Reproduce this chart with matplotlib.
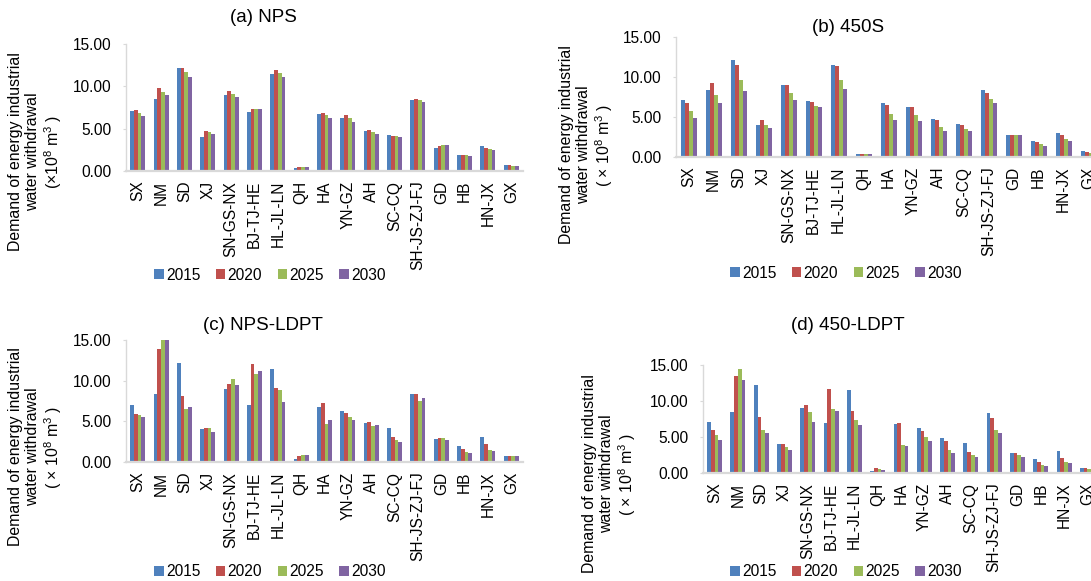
import matplotlib
matplotlib.use("Agg")
import matplotlib.pyplot as plt
import numpy as np

plt.rcParams['font.family'] = ['Liberation Sans', 'DejaVu Sans']
plt.rcParams['mathtext.fontset'] = 'custom'
plt.rcParams['mathtext.rm'] = 'Liberation Sans'
plt.rcParams['mathtext.it'] = 'Liberation Sans'

categories = ["SX", "NM", "SD", "XJ", "SN-GS-NX", "BJ-TJ-HE", "HL-JL-LN", "QH", "HA",
              "YN-GZ", "AH", "SC-CQ", "SH-JS-ZJ-FJ", "GD", "HB", "HN-JX", "GX"]
years = ["2015", "2020", "2025", "2030"]
colors = ["#4F81BD", "#C0504D", "#9BBB59", "#8064A2"]
yticks = [0, 5, 10, 15]

# (a) NPS
nps_2015 = [7.09, 8.46, 12.13, 4.02, 8.98, 7.00, 11.50, 0.39, 6.77, 6.26, 4.76, 4.21, 8.39, 2.76, 1.93, 2.95, 0.75]
nps_2020 = [7.20, 9.76, 12.13, 4.72, 9.45, 7.28, 11.97, 0.43, 6.85, 6.57, 4.84, 4.17, 8.46, 2.93, 1.93, 2.68, 0.67]
nps_2025 = [6.85, 9.37, 11.65, 4.60, 9.13, 7.36, 11.57, 0.43, 6.57, 6.22, 4.60, 4.09, 8.35, 3.03, 1.85, 2.56, 0.63]
nps_2030 = [6.50, 8.94, 11.14, 4.41, 8.78, 7.36, 11.10, 0.43, 6.30, 5.83, 4.37, 4.02, 8.19, 3.11, 1.73, 2.44, 0.63]

# (b) 450S
s450_2015 = [7.08, 8.42, 12.13, 4.04, 9.00, 7.00, 11.46, 0.42, 6.79, 6.25, 4.79, 4.17, 8.38, 2.79, 1.96, 3.00, 0.80]
s450_2020 = [6.79, 9.29, 11.54, 4.58, 9.04, 6.88, 11.42, 0.42, 6.46, 6.29, 4.58, 4.00, 8.04, 2.79, 1.85, 2.72, 0.68]
s450_2025 = [5.71, 7.79, 9.58, 4.04, 8.00, 6.42, 9.67, 0.42, 5.33, 5.29, 3.75, 3.54, 7.21, 2.71, 1.58, 2.30, 0.55]
s450_2030 = [4.92, 6.71, 8.29, 3.58, 7.13, 6.21, 8.54, 0.38, 4.58, 4.46, 3.21, 3.21, 6.71, 2.71, 1.40, 1.95, 0.48]

# (c) NPS-LDPT
npsl_2015 = [7.03, 8.42, 12.18, 4.00, 8.99, 7.03, 11.44, 0.41, 6.78, 6.25, 4.78, 4.21, 8.38, 2.80, 1.96, 3.06, 0.78]
npsl_2020 = [5.93, 13.85, 8.13, 4.17, 9.64, 12.01, 9.07, 0.74, 7.23, 6.01, 4.90, 3.06, 8.30, 2.96, 1.55, 2.25, 0.78]
npsl_2025 = [5.76, 15.00, 6.54, 4.13, 10.18, 10.79, 8.87, 0.86, 4.70, 5.56, 4.37, 2.74, 7.56, 2.90, 1.27, 1.47, 0.78]
npsl_2030 = [5.52, 15.00, 6.78, 3.72, 9.52, 11.16, 7.36, 0.86, 5.19, 5.19, 4.58, 2.49, 7.93, 2.74, 1.06, 1.35, 0.78]

# (d) 450-LDPT
l450_2015 = [7.08, 8.43, 12.16, 4.00, 9.04, 6.99, 11.46, 0.33, 6.80, 6.24, 4.80, 4.19, 8.34, 2.75, 1.95, 2.99, 0.75]
l450_2020 = [5.92, 13.41, 7.82, 4.05, 9.45, 11.60, 8.57, 0.70, 6.89, 5.87, 4.42, 2.93, 7.69, 2.79, 1.47, 2.15, 0.65]
l450_2025 = [5.31, 14.44, 5.92, 3.68, 8.52, 8.85, 7.31, 0.61, 3.91, 4.98, 3.26, 2.47, 6.01, 2.47, 1.14, 1.56, 0.56]
l450_2030 = [4.52, 12.90, 5.50, 3.26, 7.08, 8.57, 6.61, 0.47, 3.77, 4.38, 2.75, 2.28, 5.50, 2.28, 1.00, 1.40, 0.50]

W, H = 1091, 581
fig = plt.figure(figsize=(W / 100, H / 100), dpi=100)
fig.patch.set_facecolor("white")

def px_axes(x0, x1, y0, y15):
    return fig.add_axes([x0 / W, 1 - y0 / H, (x1 - x0) / W, (y0 - y15) / H])

panels = [
    dict(title="(a) NPS", series=[nps_2015, nps_2020, nps_2025, nps_2030],
         box=(126, 523, 171, 44), title_xy=(263, 18), ylab_xy=(36, 152),
         unit="(×10$^8$ m$^3$ )", leg_xy=(270, 275)),
    dict(title="(b) 450S", series=[s450_2015, s450_2020, s450_2025, s450_2030],
         box=(676, 1101, 157, 37), title_xy=(848, 27), ylab_xy=(587, 145),
         unit="( × 10$^8$ m$^3$ )", leg_xy=(846, 273)),
    dict(title="(c) NPS-LDPT", series=[npsl_2015, npsl_2020, npsl_2025, npsl_2030],
         box=(126, 523, 462, 340), title_xy=(263, 325), ylab_xy=(36, 447),
         unit="( × 10$^8$ m$^3$ )", leg_xy=(270, 572)),
    dict(title="(d) 450-LDPT", series=[l450_2015, l450_2020, l450_2025, l450_2030],
         box=(703, 1099, 473, 365), title_xy=(848, 326), ylab_xy=(610, 474),
         unit="( × 10$^8$ m$^3$ )", leg_xy=(846, 572)),
]

x = np.arange(len(categories))
bw = 0.16
grey = "#D9D9D9"

for p in panels:
    ax = px_axes(*p["box"])
    handles = []
    for i, (vals, c) in enumerate(zip(p["series"], colors)):
        h = ax.bar(x + (i - 1.5) * bw, vals, width=bw, color=c, linewidth=0, label=years[i])
        handles.append(h)
    ax.set_xlim(-0.5, len(categories) - 0.5)
    ax.set_ylim(0, 15)
    ax.set_yticks(yticks)
    ax.set_yticklabels([f"{v:.2f}" for v in yticks], fontsize=11.2)
    ax.set_xticks(x)
    ax.set_xticklabels(categories, rotation=90, fontsize=11.2)
    for s in ["top", "right"]:
        ax.spines[s].set_visible(False)
    ax.spines["left"].set_color(grey)
    ax.spines["left"].set_linewidth(1.0)
    ax.spines["bottom"].set_color(grey)
    ax.spines["bottom"].set_linewidth(1.6)
    ax.tick_params(axis="x", length=0, pad=7)
    ax.tick_params(axis="y", length=2.5, color=grey, pad=8)
    ax.set_facecolor("none")

    tx, ty = p["title_xy"]
    fig.text(tx / W, 1 - ty / H, p["title"], ha="center", va="center", fontsize=13.5)
    lx, ly = p["ylab_xy"]
    fig.text(lx / W, 1 - ly / H,
             "Demand of energy industrial\nwater withdrawal\n" + p["unit"],
             rotation=90, ha="center", va="center", multialignment="center",
             fontsize=11.4, linespacing=1.15)
    gx, gy = p["leg_xy"]
    fig.legend(handles=handles, labels=years, loc="center",
               bbox_to_anchor=(gx / W, 1 - gy / H), ncol=4, frameon=False,
               fontsize=11.2, handlelength=0.6, handleheight=0.6,
               handletextpad=0.15, columnspacing=1.0, borderpad=0, borderaxespad=0)

fig.savefig("out.png", dpi=100)
